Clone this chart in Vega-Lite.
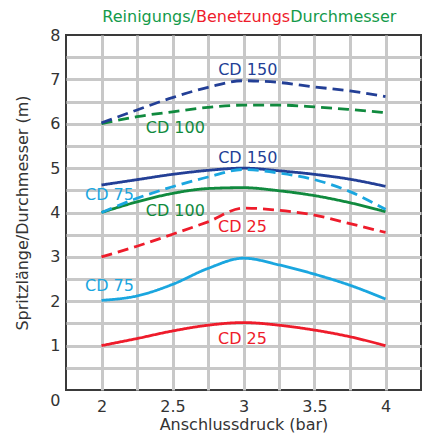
{
  "$schema": "https://vega.github.io/schema/vega-lite/v6.json",
  "width": 355,
  "height": 355,
  "autosize": {"type": "none"},
  "padding": {"left": 66, "top": 35, "right": 6, "bottom": 44},
  "config": {
    "font": "DejaVu Sans",
    "view": {"stroke": "#3a3a3a", "strokeWidth": 2},
    "axis": {"labelFont": "DejaVu Sans", "titleFont": "DejaVu Sans", "labelFontSize": 16, "titleFontSize": 16, "labelColor": "#333333", "titleColor": "#333333", "titleFontWeight": "normal", "ticks": false, "tickSize": 0, "domain": false, "gridColor": "#c8c8c8", "gridWidth": 3, "gridOpacity": 1, "labelOverlap": false, "labelFlush": false, "labelBound": false}
  },
  "datasets": {
    "lines": [
      {"cd": "CD 25", "typ": "Reinigung", "x": 2, "y": 1.0},
      {"cd": "CD 25", "typ": "Reinigung", "x": 2.25, "y": 1.16},
      {"cd": "CD 25", "typ": "Reinigung", "x": 2.5, "y": 1.33},
      {"cd": "CD 25", "typ": "Reinigung", "x": 2.75, "y": 1.46},
      {"cd": "CD 25", "typ": "Reinigung", "x": 3, "y": 1.52},
      {"cd": "CD 25", "typ": "Reinigung", "x": 3.25, "y": 1.46},
      {"cd": "CD 25", "typ": "Reinigung", "x": 3.5, "y": 1.35},
      {"cd": "CD 25", "typ": "Reinigung", "x": 3.75, "y": 1.2},
      {"cd": "CD 25", "typ": "Reinigung", "x": 4, "y": 1.0},
      {"cd": "CD 75", "typ": "Reinigung", "x": 2, "y": 2.02},
      {"cd": "CD 75", "typ": "Reinigung", "x": 2.25, "y": 2.12},
      {"cd": "CD 75", "typ": "Reinigung", "x": 2.5, "y": 2.38},
      {"cd": "CD 75", "typ": "Reinigung", "x": 2.75, "y": 2.74},
      {"cd": "CD 75", "typ": "Reinigung", "x": 3, "y": 2.97},
      {"cd": "CD 75", "typ": "Reinigung", "x": 3.25, "y": 2.82},
      {"cd": "CD 75", "typ": "Reinigung", "x": 3.5, "y": 2.61},
      {"cd": "CD 75", "typ": "Reinigung", "x": 3.75, "y": 2.36},
      {"cd": "CD 75", "typ": "Reinigung", "x": 4, "y": 2.05},
      {"cd": "CD 100", "typ": "Reinigung", "x": 2, "y": 4.0},
      {"cd": "CD 100", "typ": "Reinigung", "x": 2.25, "y": 4.24},
      {"cd": "CD 100", "typ": "Reinigung", "x": 2.5, "y": 4.43},
      {"cd": "CD 100", "typ": "Reinigung", "x": 2.75, "y": 4.54},
      {"cd": "CD 100", "typ": "Reinigung", "x": 3, "y": 4.56},
      {"cd": "CD 100", "typ": "Reinigung", "x": 3.25, "y": 4.49},
      {"cd": "CD 100", "typ": "Reinigung", "x": 3.5, "y": 4.38},
      {"cd": "CD 100", "typ": "Reinigung", "x": 3.75, "y": 4.22},
      {"cd": "CD 100", "typ": "Reinigung", "x": 4, "y": 4.02},
      {"cd": "CD 150", "typ": "Reinigung", "x": 2, "y": 4.62},
      {"cd": "CD 150", "typ": "Reinigung", "x": 2.25, "y": 4.74},
      {"cd": "CD 150", "typ": "Reinigung", "x": 2.5, "y": 4.86},
      {"cd": "CD 150", "typ": "Reinigung", "x": 2.75, "y": 4.95},
      {"cd": "CD 150", "typ": "Reinigung", "x": 3, "y": 5.0},
      {"cd": "CD 150", "typ": "Reinigung", "x": 3.25, "y": 4.94},
      {"cd": "CD 150", "typ": "Reinigung", "x": 3.5, "y": 4.86},
      {"cd": "CD 150", "typ": "Reinigung", "x": 3.75, "y": 4.75},
      {"cd": "CD 150", "typ": "Reinigung", "x": 4, "y": 4.59},
      {"cd": "CD 25", "typ": "Benetzung", "x": 2, "y": 3.0},
      {"cd": "CD 25", "typ": "Benetzung", "x": 2.25, "y": 3.24},
      {"cd": "CD 25", "typ": "Benetzung", "x": 2.5, "y": 3.51},
      {"cd": "CD 25", "typ": "Benetzung", "x": 2.75, "y": 3.79},
      {"cd": "CD 25", "typ": "Benetzung", "x": 3, "y": 4.1},
      {"cd": "CD 25", "typ": "Benetzung", "x": 3.25, "y": 4.05},
      {"cd": "CD 25", "typ": "Benetzung", "x": 3.5, "y": 3.94},
      {"cd": "CD 25", "typ": "Benetzung", "x": 3.75, "y": 3.75},
      {"cd": "CD 25", "typ": "Benetzung", "x": 4, "y": 3.55},
      {"cd": "CD 75", "typ": "Benetzung", "x": 2, "y": 4.0},
      {"cd": "CD 75", "typ": "Benetzung", "x": 2.25, "y": 4.32},
      {"cd": "CD 75", "typ": "Benetzung", "x": 2.5, "y": 4.58},
      {"cd": "CD 75", "typ": "Benetzung", "x": 2.75, "y": 4.8},
      {"cd": "CD 75", "typ": "Benetzung", "x": 3, "y": 4.97},
      {"cd": "CD 75", "typ": "Benetzung", "x": 3.25, "y": 4.89},
      {"cd": "CD 75", "typ": "Benetzung", "x": 3.5, "y": 4.74},
      {"cd": "CD 75", "typ": "Benetzung", "x": 3.75, "y": 4.47},
      {"cd": "CD 75", "typ": "Benetzung", "x": 4, "y": 4.07},
      {"cd": "CD 100", "typ": "Benetzung", "x": 2, "y": 6.0},
      {"cd": "CD 100", "typ": "Benetzung", "x": 2.25, "y": 6.16},
      {"cd": "CD 100", "typ": "Benetzung", "x": 2.5, "y": 6.27},
      {"cd": "CD 100", "typ": "Benetzung", "x": 2.75, "y": 6.37},
      {"cd": "CD 100", "typ": "Benetzung", "x": 3, "y": 6.42},
      {"cd": "CD 100", "typ": "Benetzung", "x": 3.25, "y": 6.42},
      {"cd": "CD 100", "typ": "Benetzung", "x": 3.5, "y": 6.38},
      {"cd": "CD 100", "typ": "Benetzung", "x": 3.75, "y": 6.32},
      {"cd": "CD 100", "typ": "Benetzung", "x": 4, "y": 6.25},
      {"cd": "CD 150", "typ": "Benetzung", "x": 2, "y": 6.02},
      {"cd": "CD 150", "typ": "Benetzung", "x": 2.25, "y": 6.31},
      {"cd": "CD 150", "typ": "Benetzung", "x": 2.5, "y": 6.59},
      {"cd": "CD 150", "typ": "Benetzung", "x": 2.75, "y": 6.82},
      {"cd": "CD 150", "typ": "Benetzung", "x": 3, "y": 6.97},
      {"cd": "CD 150", "typ": "Benetzung", "x": 3.25, "y": 6.93},
      {"cd": "CD 150", "typ": "Benetzung", "x": 3.5, "y": 6.83},
      {"cd": "CD 150", "typ": "Benetzung", "x": 3.75, "y": 6.74},
      {"cd": "CD 150", "typ": "Benetzung", "x": 4, "y": 6.61}
    ],
    "labels": [
      {"cd": "CD 150", "x": 3.03, "y": 7.21},
      {"cd": "CD 100", "x": 2.52, "y": 5.9},
      {"cd": "CD 150", "x": 3.03, "y": 5.22},
      {"cd": "CD 75", "x": 2.056, "y": 4.39},
      {"cd": "CD 100", "x": 2.52, "y": 4.03},
      {"cd": "CD 25", "x": 2.993, "y": 3.67},
      {"cd": "CD 75", "x": 2.056, "y": 2.34},
      {"cd": "CD 25", "x": 2.993, "y": 1.14}
    ],
    "t1": [{"t": "Reinigungs/", "x": 2.665, "y": 8.4}],
    "t2": [{"t": "Benetzungs", "x": 2.665, "y": 8.4}],
    "t3": [{"t": "Durchmesser", "x": 3.329, "y": 8.4}]
  },
  "encoding": {
    "x": {
      "field": "x", "type": "quantitative",
      "scale": {"domain": [1.75, 4.25], "nice": false, "zero": false},
      "axis": {
        "title": "Anschlussdruck (bar)",
        "values": [2, 2.25, 2.5, 2.75, 3, 3.25, 3.5, 3.75, 4],
        "labelExpr": "datum.value % 0.5 === 0 ? format(datum.value, '~g') : ''",
        "labelPadding": 8,
        "titlePadding": 2
      }
    },
    "y": {
      "field": "y", "type": "quantitative",
      "scale": {"domain": [0, 8], "nice": false},
      "axis": {
        "title": "Spritzlänge/Durchmesser (m)",
        "values": [0, 0.5, 1, 1.5, 2, 2.5, 3, 3.5, 4, 4.5, 5, 5.5, 6, 6.5, 7, 7.5, 8],
        "labelExpr": "datum.value % 1 === 0 ? format(datum.value, 'd') : ''",
        "gridColor": {"condition": {"test": "datum.value === 0 || datum.value === 8", "value": "transparent"}, "value": "#c8c8c8"},
        "labelOffset": {"condition": {"test": "datum.value === 0", "value": 10}, "value": 0},
        "labelPadding": 6,
        "titlePadding": 19
      }
    }
  },
  "layer": [
    {
      "data": {"name": "lines"},
      "mark": {"type": "line", "interpolate": "monotone", "strokeWidth": 2.8},
      "encoding": {
        "color": {"field": "cd", "type": "nominal", "legend": null,
          "scale": {"domain": ["CD 25", "CD 75", "CD 100", "CD 150"], "range": ["#ee1c2b", "#1aa6df", "#108a3e", "#233f96"]}},
        "strokeDash": {"field": "typ", "type": "nominal", "legend": null,
          "scale": {"domain": ["Reinigung", "Benetzung"], "range": [[1, 0], [11, 6]]}},
        "detail": {"field": "typ"}
      }
    },
    {
      "data": {"name": "labels"},
      "mark": {"type": "text", "fontSize": 16, "font": "DejaVu Sans", "align": "center", "baseline": "middle"},
      "encoding": {
        "text": {"field": "cd"},
        "color": {"field": "cd", "type": "nominal", "legend": null}
      }
    },
    {
      "data": {"name": "t1"},
      "mark": {"type": "text", "fontSize": 16, "font": "DejaVu Sans", "align": "right", "baseline": "middle", "color": "#139a4a", "clip": false},
      "encoding": {"text": {"field": "t"}}
    },
    {
      "data": {"name": "t2"},
      "mark": {"type": "text", "fontSize": 16, "font": "DejaVu Sans", "align": "left", "baseline": "middle", "color": "#ee1c2b", "clip": false},
      "encoding": {"text": {"field": "t"}}
    },
    {
      "data": {"name": "t3"},
      "mark": {"type": "text", "fontSize": 16, "font": "DejaVu Sans", "align": "left", "baseline": "middle", "color": "#139a4a", "clip": false},
      "encoding": {"text": {"field": "t"}}
    }
  ]
}
